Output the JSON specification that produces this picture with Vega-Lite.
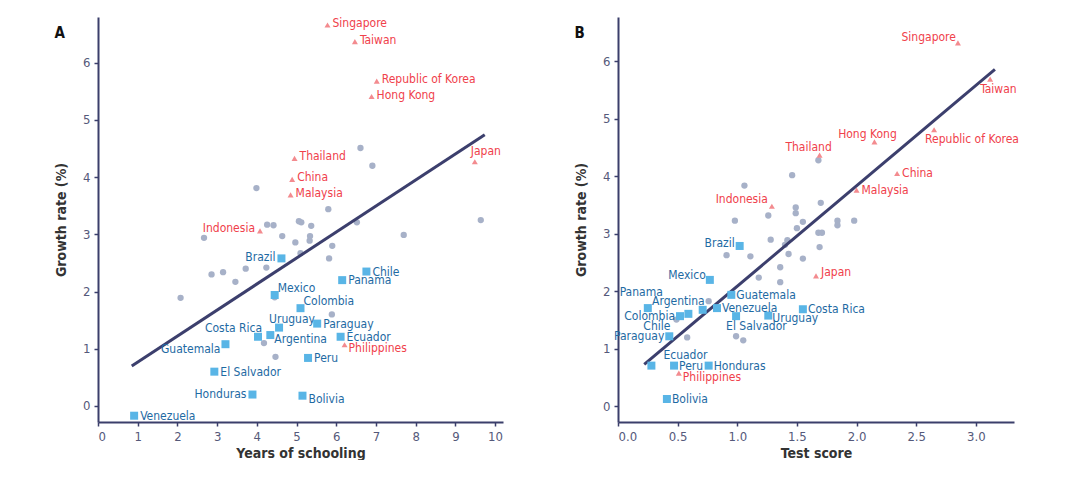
{
  "$schema": "https://vega.github.io/schema/vega-lite/v6.json",
  "padding": {"left": 54, "top": 17, "right": 0, "bottom": 0},
  "spacing": 71,
  "datasets": {
    "a": [
      {"country": "", "group": "other", "x": 6.61, "y": 4.51},
      {"country": "", "group": "other", "x": 6.91, "y": 4.20},
      {"country": "", "group": "other", "x": 3.99, "y": 3.81},
      {"country": "", "group": "other", "x": 5.80, "y": 3.44},
      {"country": "", "group": "other", "x": 5.06, "y": 3.23},
      {"country": "", "group": "other", "x": 5.12, "y": 3.21},
      {"country": "", "group": "other", "x": 4.26, "y": 3.17},
      {"country": "", "group": "other", "x": 4.42, "y": 3.16},
      {"country": "", "group": "other", "x": 5.37, "y": 3.15},
      {"country": "", "group": "other", "x": 4.64, "y": 2.97},
      {"country": "", "group": "other", "x": 2.67, "y": 2.94},
      {"country": "", "group": "other", "x": 5.34, "y": 2.97},
      {"country": "", "group": "other", "x": 5.33, "y": 2.89},
      {"country": "", "group": "other", "x": 4.97, "y": 2.86},
      {"country": "", "group": "other", "x": 5.90, "y": 2.80},
      {"country": "", "group": "other", "x": 5.82, "y": 2.58},
      {"country": "", "group": "other", "x": 7.70, "y": 2.99},
      {"country": "", "group": "other", "x": 6.52, "y": 3.21},
      {"country": "", "group": "other", "x": 2.86, "y": 2.30},
      {"country": "", "group": "other", "x": 3.15, "y": 2.34},
      {"country": "", "group": "other", "x": 3.72, "y": 2.40},
      {"country": "", "group": "other", "x": 4.24, "y": 2.42},
      {"country": "", "group": "other", "x": 3.46, "y": 2.17},
      {"country": "", "group": "other", "x": 2.08, "y": 1.89},
      {"country": "", "group": "other", "x": 4.45, "y": 1.90},
      {"country": "", "group": "other", "x": 5.89, "y": 1.60},
      {"country": "", "group": "other", "x": 5.10, "y": 2.67},
      {"country": "", "group": "other", "x": 4.18, "y": 1.10},
      {"country": "", "group": "other", "x": 4.47, "y": 0.86},
      {"country": "", "group": "other", "x": 9.64, "y": 3.25},
      {"country": "Singapore", "group": "asia", "x": 5.78, "y": 6.66},
      {"country": "Taiwan", "group": "asia", "x": 6.47, "y": 6.37},
      {"country": "Republic of Korea", "group": "asia", "x": 7.02, "y": 5.68},
      {"country": "Hong Kong", "group": "asia", "x": 6.89, "y": 5.41},
      {"country": "Japan", "group": "asia", "x": 9.49, "y": 4.27},
      {"country": "Thailand", "group": "asia", "x": 4.95, "y": 4.33},
      {"country": "China", "group": "asia", "x": 4.89, "y": 3.96},
      {"country": "Malaysia", "group": "asia", "x": 4.85, "y": 3.69},
      {"country": "Indonesia", "group": "asia", "x": 4.08, "y": 3.06},
      {"country": "Philippines", "group": "asia", "x": 6.21, "y": 1.07},
      {"country": "Brazil", "group": "latam", "x": 4.62, "y": 2.58},
      {"country": "Chile", "group": "latam", "x": 6.76, "y": 2.35},
      {"country": "Panama", "group": "latam", "x": 6.15, "y": 2.20},
      {"country": "Mexico", "group": "latam", "x": 4.45, "y": 1.94},
      {"country": "Colombia", "group": "latam", "x": 5.10, "y": 1.71},
      {"country": "Uruguay", "group": "latam", "x": 4.56, "y": 1.37},
      {"country": "Paraguay", "group": "latam", "x": 5.52, "y": 1.44},
      {"country": "Costa Rica", "group": "latam", "x": 4.03, "y": 1.21},
      {"country": "Argentina", "group": "latam", "x": 4.34, "y": 1.24},
      {"country": "Ecuador", "group": "latam", "x": 6.11, "y": 1.21},
      {"country": "Peru", "group": "latam", "x": 5.29, "y": 0.84},
      {"country": "Guatemala", "group": "latam", "x": 3.21, "y": 1.08},
      {"country": "El Salvador", "group": "latam", "x": 2.93, "y": 0.60},
      {"country": "Honduras", "group": "latam", "x": 3.89, "y": 0.20},
      {"country": "Bolivia", "group": "latam", "x": 5.15, "y": 0.18},
      {"country": "Venezuela", "group": "latam", "x": 0.91, "y": -0.17}
    ],
    "b": [
      {"country": "", "group": "other", "x": 1.68, "y": 4.28},
      {"country": "", "group": "other", "x": 1.46, "y": 4.02},
      {"country": "", "group": "other", "x": 1.06, "y": 3.84},
      {"country": "", "group": "other", "x": 1.49, "y": 3.46},
      {"country": "", "group": "other", "x": 1.70, "y": 3.54},
      {"country": "", "group": "other", "x": 1.49, "y": 3.36},
      {"country": "", "group": "other", "x": 1.26, "y": 3.32},
      {"country": "", "group": "other", "x": 0.98, "y": 3.23},
      {"country": "", "group": "other", "x": 1.55, "y": 3.21},
      {"country": "", "group": "other", "x": 1.84, "y": 3.23},
      {"country": "", "group": "other", "x": 1.84, "y": 3.15},
      {"country": "", "group": "other", "x": 1.98, "y": 3.23},
      {"country": "", "group": "other", "x": 1.50, "y": 3.10},
      {"country": "", "group": "other", "x": 1.68, "y": 3.02},
      {"country": "", "group": "other", "x": 1.71, "y": 3.02},
      {"country": "", "group": "other", "x": 1.28, "y": 2.90},
      {"country": "", "group": "other", "x": 1.42, "y": 2.89},
      {"country": "", "group": "other", "x": 1.40, "y": 2.81},
      {"country": "", "group": "other", "x": 1.69, "y": 2.77},
      {"country": "", "group": "other", "x": 0.91, "y": 2.63},
      {"country": "", "group": "other", "x": 1.11, "y": 2.61},
      {"country": "", "group": "other", "x": 1.43, "y": 2.65},
      {"country": "", "group": "other", "x": 1.55, "y": 2.57},
      {"country": "", "group": "other", "x": 1.36, "y": 2.42},
      {"country": "", "group": "other", "x": 1.18, "y": 2.24},
      {"country": "", "group": "other", "x": 1.36, "y": 2.16},
      {"country": "", "group": "other", "x": 0.76, "y": 1.83},
      {"country": "", "group": "other", "x": 0.49, "y": 1.51},
      {"country": "", "group": "other", "x": 0.58, "y": 1.20},
      {"country": "", "group": "other", "x": 0.99, "y": 1.22},
      {"country": "", "group": "other", "x": 1.05, "y": 1.15},
      {"country": "Singapore", "group": "asia", "x": 2.85, "y": 6.32},
      {"country": "Taiwan", "group": "asia", "x": 3.12, "y": 5.69},
      {"country": "Republic of Korea", "group": "asia", "x": 2.65, "y": 4.81},
      {"country": "Hong Kong", "group": "asia", "x": 2.15, "y": 4.60},
      {"country": "Thailand", "group": "asia", "x": 1.69, "y": 4.37},
      {"country": "China", "group": "asia", "x": 2.34, "y": 4.05},
      {"country": "Malaysia", "group": "asia", "x": 2.00, "y": 3.76},
      {"country": "Indonesia", "group": "asia", "x": 1.29, "y": 3.48},
      {"country": "Japan", "group": "asia", "x": 1.66, "y": 2.27},
      {"country": "Philippines", "group": "asia", "x": 0.51, "y": 0.58},
      {"country": "Brazil", "group": "latam", "x": 1.02, "y": 2.79},
      {"country": "Mexico", "group": "latam", "x": 0.77, "y": 2.20},
      {"country": "Panama", "group": "latam", "x": 0.25, "y": 1.71},
      {"country": "Argentina", "group": "latam", "x": 0.71, "y": 1.68},
      {"country": "Colombia", "group": "latam", "x": 0.52, "y": 1.57},
      {"country": "Chile", "group": "latam", "x": 0.59, "y": 1.61},
      {"country": "Paraguay", "group": "latam", "x": 0.43, "y": 1.22},
      {"country": "Venezuela", "group": "latam", "x": 0.83, "y": 1.71},
      {"country": "Guatemala", "group": "latam", "x": 0.95, "y": 1.94},
      {"country": "El Salvador", "group": "latam", "x": 0.99, "y": 1.57},
      {"country": "Uruguay", "group": "latam", "x": 1.26, "y": 1.58},
      {"country": "Costa Rica", "group": "latam", "x": 1.55, "y": 1.69},
      {"country": "Ecuador", "group": "latam", "x": 0.28, "y": 0.71},
      {"country": "Peru", "group": "latam", "x": 0.47, "y": 0.71},
      {"country": "Honduras", "group": "latam", "x": 0.76, "y": 0.71},
      {"country": "Bolivia", "group": "latam", "x": 0.41, "y": 0.13}
    ],
    "fitA": [{"x": 0.85, "y": 0.70}, {"x": 9.74, "y": 4.74}],
    "fitB": [{"x": 0.22, "y": 0.73}, {"x": 3.16, "y": 5.86}]
  },
  "hconcat": [
    {
      "width": 405,
      "height": 405,
      "title": {"text": "A", "anchor": "start", "frame": "bounds", "fontSize": 15, "fontWeight": "bold", "color": "#111111", "dy": 24, "offset": 0},
      "encoding": {
        "x": {"field": "x", "type": "quantitative", "scale": {"domain": [0, 10.2], "nice": false, "zero": false}, "axis": {"values": [0, 1, 2, 3, 4, 5, 6, 7, 8, 9, 10], "title": "Years of schooling"}},
        "y": {"field": "y", "type": "quantitative", "scale": {"domain": [-0.28, 6.8], "nice": false, "zero": false}, "axis": {"values": [0, 1, 2, 3, 4, 5, 6], "title": "Growth rate (%)"}}
      },
      "layer": [
        {"data": {"name": "a"}, "transform": [{"filter": "datum.group === 'other'"}], "mark": {"type": "point", "shape": "circle", "filled": true, "size": 40, "color": "#a7b1c8", "opacity": 1}},
        {"data": {"name": "fitA"}, "mark": {"type": "line", "color": "#3c3f6d", "strokeWidth": 3}},
        {"data": {"name": "a"}, "transform": [{"filter": "datum.group === 'latam'"}], "mark": {"type": "point", "shape": "square", "filled": true, "size": 64, "color": "#59b5e6", "opacity": 1}},
        {"data": {"name": "a"}, "transform": [{"filter": "datum.group === 'asia'"}], "mark": {"type": "point", "shape": "triangle-up", "filled": true, "size": 36, "color": "#f38b8f", "opacity": 1}},
        {"data": {"name": "a"}, "transform": [{"filter": {"field": "country", "oneOf": ["Singapore", "Taiwan", "Republic of Korea", "Hong Kong", "Thailand", "China", "Malaysia"]}}], "mark": {"type": "text", "align": "left", "baseline": "middle", "dx": 5, "dy": -2, "fontSize": 12, "color": "#f0414b"}, "encoding": {"text": {"field": "country"}}},
        {"data": {"name": "a"}, "transform": [{"filter": {"field": "country", "oneOf": ["Japan"]}}], "mark": {"type": "text", "align": "left", "baseline": "middle", "dx": -4, "dy": -11, "fontSize": 12, "color": "#f0414b"}, "encoding": {"text": {"field": "country"}}},
        {"data": {"name": "a"}, "transform": [{"filter": {"field": "country", "oneOf": ["Indonesia"]}}], "mark": {"type": "text", "align": "right", "baseline": "middle", "dx": -5, "dy": -3, "fontSize": 12, "color": "#f0414b"}, "encoding": {"text": {"field": "country"}}},
        {"data": {"name": "a"}, "transform": [{"filter": {"field": "country", "oneOf": ["Philippines"]}}], "mark": {"type": "text", "align": "left", "baseline": "middle", "dx": 4, "dy": 3, "fontSize": 12, "color": "#f0414b"}, "encoding": {"text": {"field": "country"}}},
        {"data": {"name": "a"}, "transform": [{"filter": {"field": "country", "oneOf": ["Chile", "Panama", "Paraguay", "Ecuador", "Peru", "El Salvador", "Venezuela"]}}], "mark": {"type": "text", "align": "left", "baseline": "middle", "dx": 6, "dy": 0, "fontSize": 12, "color": "#1e6aa3"}, "encoding": {"text": {"field": "country"}}},
        {"data": {"name": "a"}, "transform": [{"filter": {"field": "country", "oneOf": ["Bolivia"]}}], "mark": {"type": "text", "align": "left", "baseline": "middle", "dx": 6, "dy": 3, "fontSize": 12, "color": "#1e6aa3"}, "encoding": {"text": {"field": "country"}}},
        {"data": {"name": "a"}, "transform": [{"filter": {"field": "country", "oneOf": ["Brazil", "Honduras"]}}], "mark": {"type": "text", "align": "right", "baseline": "middle", "dx": -6, "dy": -1, "fontSize": 12, "color": "#1e6aa3"}, "encoding": {"text": {"field": "country"}}},
        {"data": {"name": "a"}, "transform": [{"filter": {"field": "country", "oneOf": ["Guatemala"]}}], "mark": {"type": "text", "align": "right", "baseline": "middle", "dx": -5, "dy": 5, "fontSize": 12, "color": "#1e6aa3"}, "encoding": {"text": {"field": "country"}}},
        {"data": {"name": "a"}, "transform": [{"filter": {"field": "country", "oneOf": ["Mexico", "Colombia"]}}], "mark": {"type": "text", "align": "left", "baseline": "middle", "dx": 3, "dy": -7, "fontSize": 12, "color": "#1e6aa3"}, "encoding": {"text": {"field": "country"}}},
        {"data": {"name": "a"}, "transform": [{"filter": {"field": "country", "oneOf": ["Uruguay"]}}], "mark": {"type": "text", "align": "left", "baseline": "middle", "dx": -10, "dy": -9, "fontSize": 12, "color": "#1e6aa3"}, "encoding": {"text": {"field": "country"}}},
        {"data": {"name": "a"}, "transform": [{"filter": {"field": "country", "oneOf": ["Costa Rica"]}}], "mark": {"type": "text", "align": "right", "baseline": "middle", "dx": 4, "dy": -9, "fontSize": 12, "color": "#1e6aa3"}, "encoding": {"text": {"field": "country"}}},
        {"data": {"name": "a"}, "transform": [{"filter": {"field": "country", "oneOf": ["Argentina"]}}], "mark": {"type": "text", "align": "left", "baseline": "middle", "dx": 4, "dy": 4, "fontSize": 12, "color": "#1e6aa3"}, "encoding": {"text": {"field": "country"}}}
      ]
    },
    {
      "width": 396,
      "height": 405,
      "title": {"text": "B", "anchor": "start", "frame": "bounds", "fontSize": 15, "fontWeight": "bold", "color": "#111111", "dy": 24, "offset": 0},
      "encoding": {
        "x": {"field": "x", "type": "quantitative", "scale": {"domain": [0, 3.32], "nice": false, "zero": false}, "axis": {"values": [0, 0.5, 1, 1.5, 2, 2.5, 3], "format": ".1f", "title": "Test score"}},
        "y": {"field": "y", "type": "quantitative", "scale": {"domain": [-0.27, 6.77], "nice": false, "zero": false}, "axis": {"values": [0, 1, 2, 3, 4, 5, 6], "title": "Growth rate (%)"}}
      },
      "layer": [
        {"data": {"name": "b"}, "transform": [{"filter": "datum.group === 'other'"}], "mark": {"type": "point", "shape": "circle", "filled": true, "size": 40, "color": "#a7b1c8", "opacity": 1}},
        {"data": {"name": "fitB"}, "mark": {"type": "line", "color": "#3c3f6d", "strokeWidth": 3}},
        {"data": {"name": "b"}, "transform": [{"filter": "datum.group === 'latam'"}], "mark": {"type": "point", "shape": "square", "filled": true, "size": 64, "color": "#59b5e6", "opacity": 1}},
        {"data": {"name": "b"}, "transform": [{"filter": "datum.group === 'asia'"}], "mark": {"type": "point", "shape": "triangle-up", "filled": true, "size": 36, "color": "#f38b8f", "opacity": 1}},
        {"data": {"name": "b"}, "transform": [{"filter": {"field": "country", "oneOf": ["China", "Malaysia"]}}], "mark": {"type": "text", "align": "left", "baseline": "middle", "dx": 5, "dy": 0, "fontSize": 12, "color": "#f0414b"}, "encoding": {"text": {"field": "country"}}},
        {"data": {"name": "b"}, "transform": [{"filter": {"field": "country", "oneOf": ["Japan"]}}], "mark": {"type": "text", "align": "left", "baseline": "middle", "dx": 5, "dy": -4, "fontSize": 12, "color": "#f0414b"}, "encoding": {"text": {"field": "country"}}},
        {"data": {"name": "b"}, "transform": [{"filter": {"field": "country", "oneOf": ["Philippines"]}}], "mark": {"type": "text", "align": "left", "baseline": "middle", "dx": 4, "dy": 4, "fontSize": 12, "color": "#f0414b"}, "encoding": {"text": {"field": "country"}}},
        {"data": {"name": "b"}, "transform": [{"filter": {"field": "country", "oneOf": ["Singapore"]}}], "mark": {"type": "text", "align": "right", "baseline": "middle", "dx": -2, "dy": -6, "fontSize": 12, "color": "#f0414b"}, "encoding": {"text": {"field": "country"}}},
        {"data": {"name": "b"}, "transform": [{"filter": {"field": "country", "oneOf": ["Taiwan"]}}], "mark": {"type": "text", "align": "left", "baseline": "middle", "dx": -10, "dy": 10, "fontSize": 12, "color": "#f0414b"}, "encoding": {"text": {"field": "country"}}},
        {"data": {"name": "b"}, "transform": [{"filter": {"field": "country", "oneOf": ["Republic of Korea"]}}], "mark": {"type": "text", "align": "left", "baseline": "middle", "dx": -9, "dy": 9, "fontSize": 12, "color": "#f0414b"}, "encoding": {"text": {"field": "country"}}},
        {"data": {"name": "b"}, "transform": [{"filter": {"field": "country", "oneOf": ["Hong Kong"]}}], "mark": {"type": "text", "align": "center", "baseline": "middle", "dx": -7, "dy": -8, "fontSize": 12, "color": "#f0414b"}, "encoding": {"text": {"field": "country"}}},
        {"data": {"name": "b"}, "transform": [{"filter": {"field": "country", "oneOf": ["Thailand"]}}], "mark": {"type": "text", "align": "center", "baseline": "middle", "dx": -11, "dy": -8, "fontSize": 12, "color": "#f0414b"}, "encoding": {"text": {"field": "country"}}},
        {"data": {"name": "b"}, "transform": [{"filter": {"field": "country", "oneOf": ["Indonesia"]}}], "mark": {"type": "text", "align": "right", "baseline": "middle", "dx": -4, "dy": -7, "fontSize": 12, "color": "#f0414b"}, "encoding": {"text": {"field": "country"}}},
        {"data": {"name": "b"}, "transform": [{"filter": {"field": "country", "oneOf": ["Venezuela", "Guatemala", "Costa Rica", "Peru", "Honduras", "Bolivia"]}}], "mark": {"type": "text", "align": "left", "baseline": "middle", "dx": 5, "dy": 0, "fontSize": 12, "color": "#1e6aa3"}, "encoding": {"text": {"field": "country"}}},
        {"data": {"name": "b"}, "transform": [{"filter": {"field": "country", "oneOf": ["Uruguay"]}}], "mark": {"type": "text", "align": "left", "baseline": "middle", "dx": 4, "dy": 2, "fontSize": 12, "color": "#1e6aa3"}, "encoding": {"text": {"field": "country"}}},
        {"data": {"name": "b"}, "transform": [{"filter": {"field": "country", "oneOf": ["Colombia", "Paraguay"]}}], "mark": {"type": "text", "align": "right", "baseline": "middle", "dx": -5, "dy": 0, "fontSize": 12, "color": "#1e6aa3"}, "encoding": {"text": {"field": "country"}}},
        {"data": {"name": "b"}, "transform": [{"filter": {"field": "country", "oneOf": ["Brazil"]}}], "mark": {"type": "text", "align": "right", "baseline": "middle", "dx": -5, "dy": -3, "fontSize": 12, "color": "#1e6aa3"}, "encoding": {"text": {"field": "country"}}},
        {"data": {"name": "b"}, "transform": [{"filter": {"field": "country", "oneOf": ["Mexico"]}}], "mark": {"type": "text", "align": "right", "baseline": "middle", "dx": -4, "dy": -5, "fontSize": 12, "color": "#1e6aa3"}, "encoding": {"text": {"field": "country"}}},
        {"data": {"name": "b"}, "transform": [{"filter": {"field": "country", "oneOf": ["Panama"]}}], "mark": {"type": "text", "align": "right", "baseline": "middle", "dx": 15, "dy": -16, "fontSize": 12, "color": "#1e6aa3"}, "encoding": {"text": {"field": "country"}}},
        {"data": {"name": "b"}, "transform": [{"filter": {"field": "country", "oneOf": ["Argentina"]}}], "mark": {"type": "text", "align": "right", "baseline": "middle", "dx": 2, "dy": -9, "fontSize": 12, "color": "#1e6aa3"}, "encoding": {"text": {"field": "country"}}},
        {"data": {"name": "b"}, "transform": [{"filter": {"field": "country", "oneOf": ["Chile"]}}], "mark": {"type": "text", "align": "right", "baseline": "middle", "dx": -18, "dy": 12, "fontSize": 12, "color": "#1e6aa3"}, "encoding": {"text": {"field": "country"}}},
        {"data": {"name": "b"}, "transform": [{"filter": {"field": "country", "oneOf": ["El Salvador"]}}], "mark": {"type": "text", "align": "left", "baseline": "middle", "dx": -10, "dy": 10, "fontSize": 12, "color": "#1e6aa3"}, "encoding": {"text": {"field": "country"}}},
        {"data": {"name": "b"}, "transform": [{"filter": {"field": "country", "oneOf": ["Ecuador"]}}], "mark": {"type": "text", "align": "left", "baseline": "middle", "dx": 12, "dy": -11, "fontSize": 12, "color": "#1e6aa3"}, "encoding": {"text": {"field": "country"}}}
      ]
    }
  ],
  "config": {
    "view": {"stroke": null},
    "font": "Liberation Sans Narrow, DejaVu Sans Condensed, sans-serif",
    "text": {"font": "Liberation Sans Narrow, DejaVu Sans Condensed, sans-serif"},
    "title": {"font": "Liberation Sans Narrow, DejaVu Sans Condensed, sans-serif"},
    "axis": {
      "grid": false,
      "domainColor": "#3b3f6b",
      "domainWidth": 2,
      "tickColor": "#3b3f6b",
      "tickWidth": 1.5,
      "tickSize": 4,
      "labelPadding": 4,
      "labelFont": "Liberation Sans Narrow, DejaVu Sans Condensed, sans-serif",
      "labelFontSize": 13,
      "labelColor": "#55597a",
      "titleFont": "Liberation Sans Narrow, DejaVu Sans Condensed, sans-serif",
      "titleFontSize": 14,
      "titleFontWeight": "bold",
      "titleColor": "#333333"
    },
    "axisY": {"titlePadding": 14},
    "axisX": {"titlePadding": 3}
  }
}
